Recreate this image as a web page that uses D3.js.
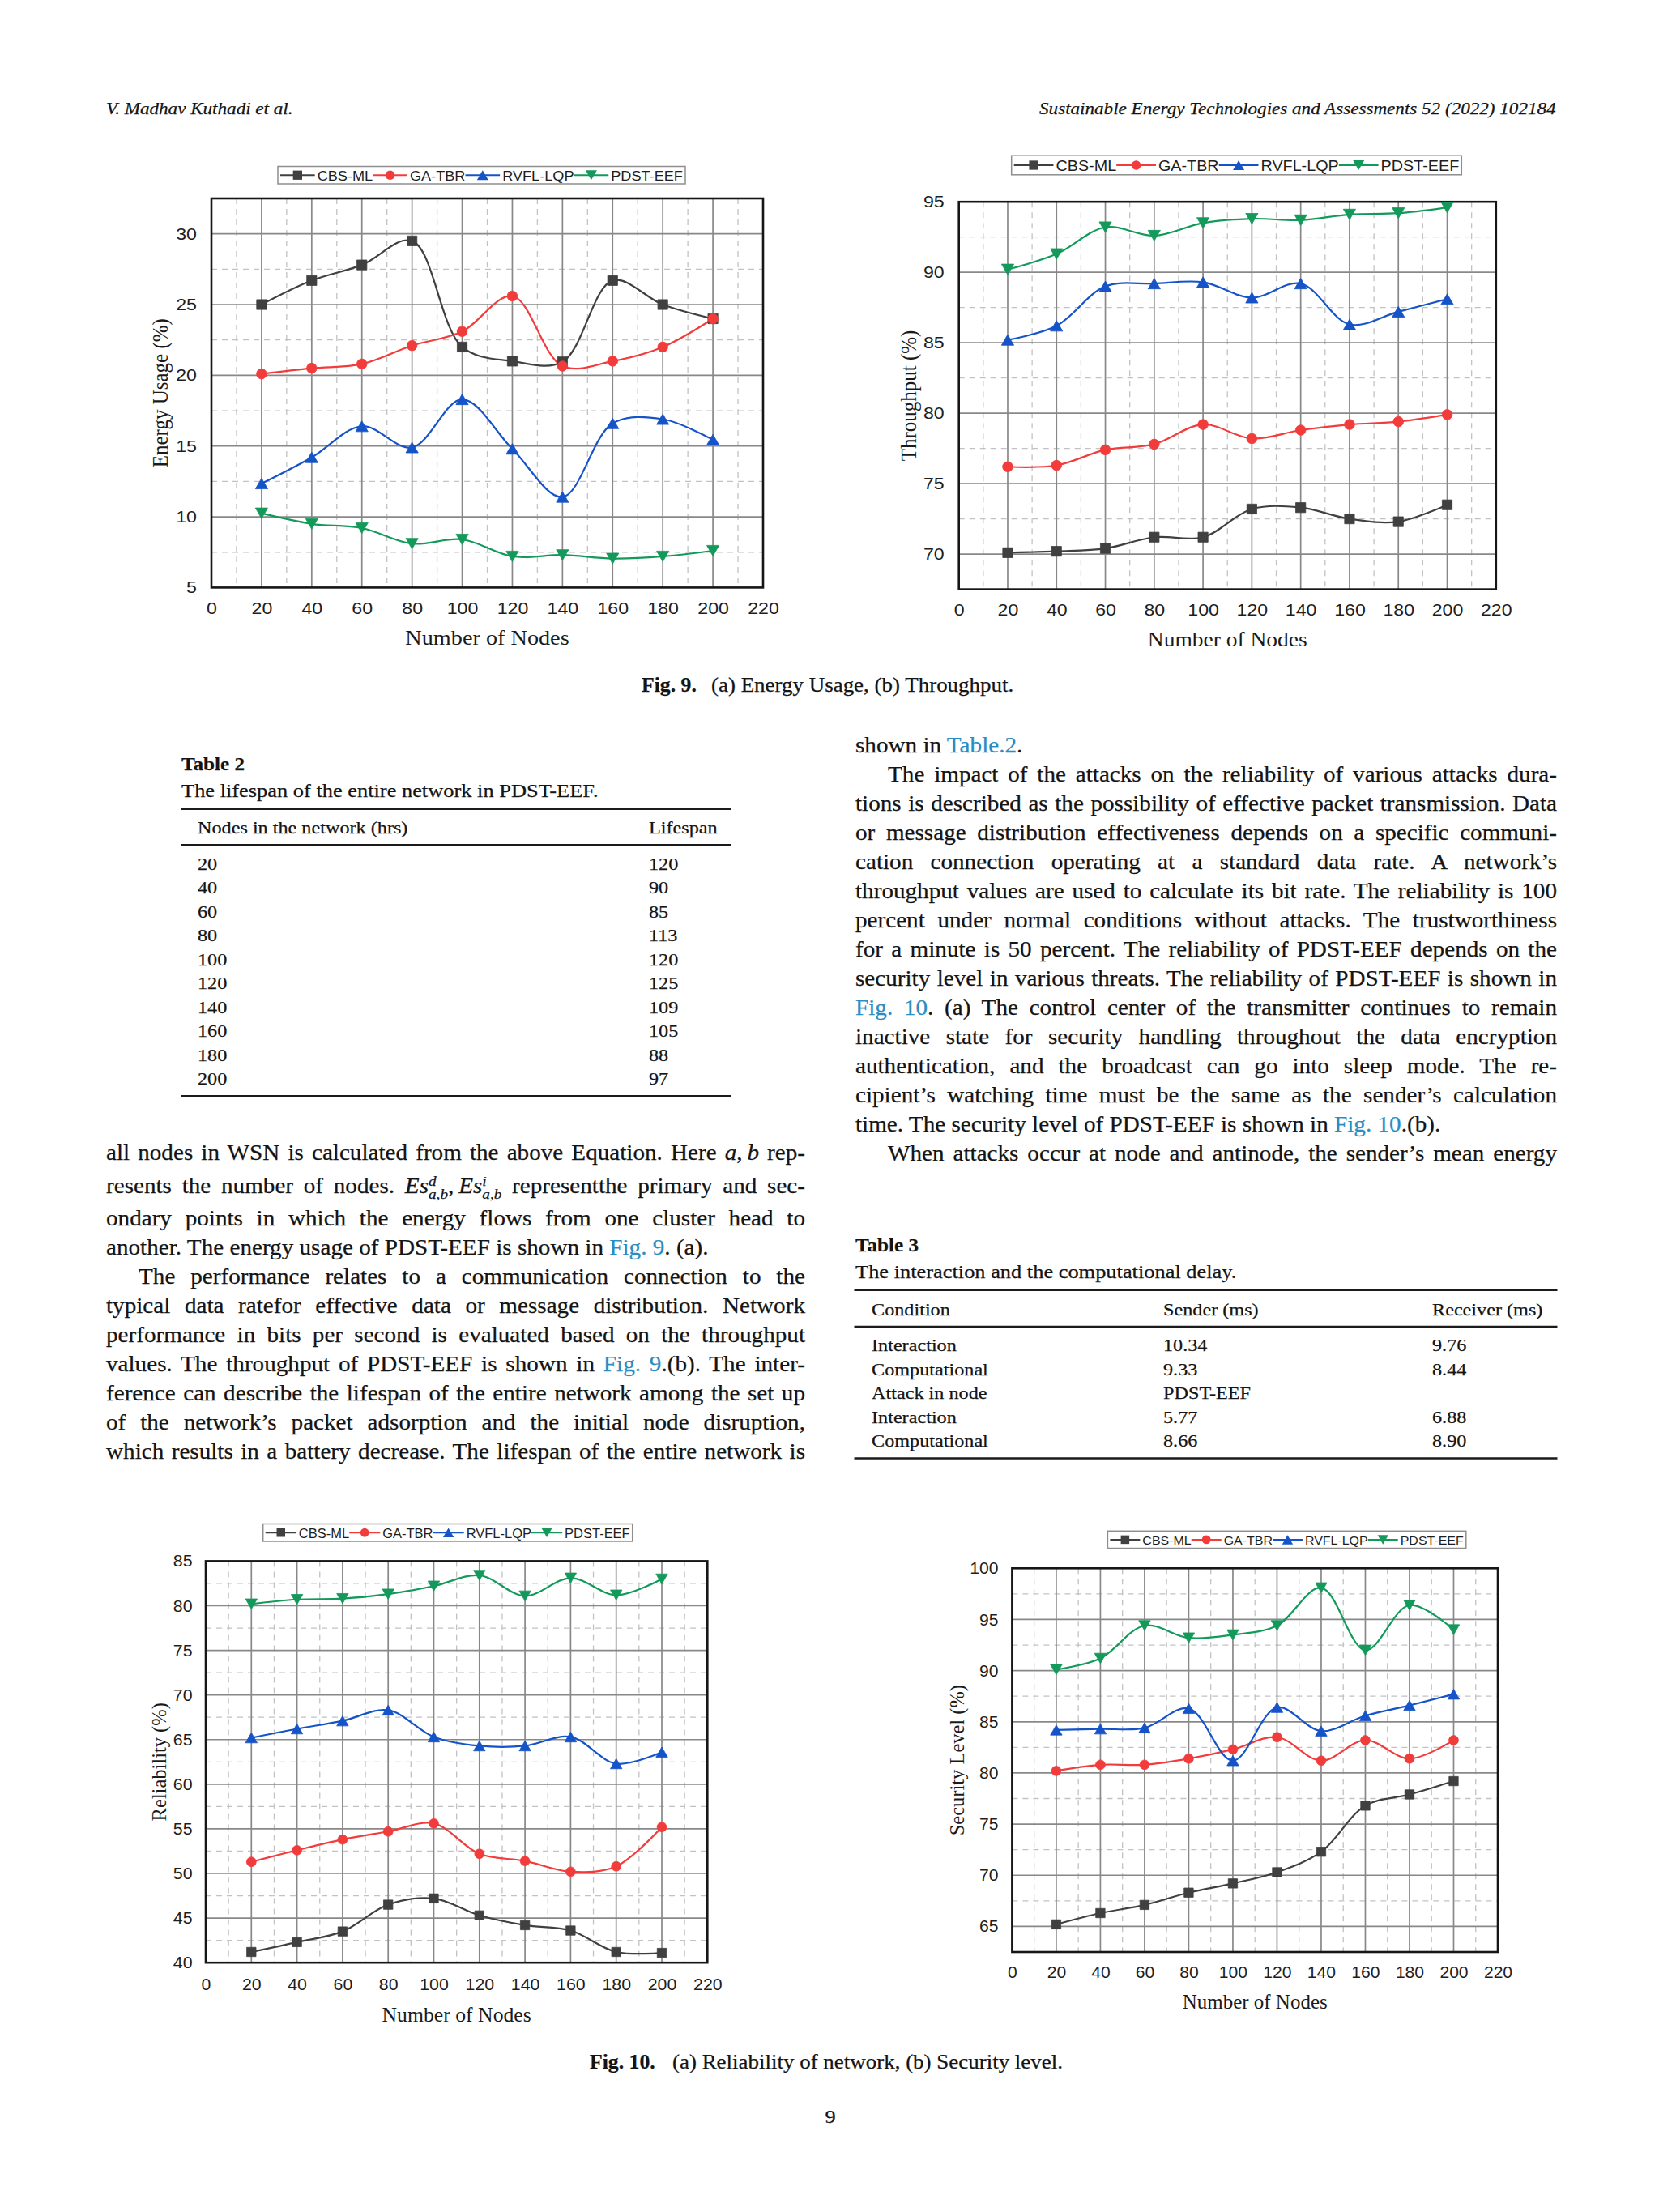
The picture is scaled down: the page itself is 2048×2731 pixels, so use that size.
<!DOCTYPE html>
<html><head><meta charset="utf-8">
<script src="https://cdn.jsdelivr.net/npm/d3@7"></script>
<style>
body{margin:0;background:#fff;}
#page{position:relative;width:2048px;height:2731px;background:#fff;overflow:hidden;font-family:"Liberation Serif","Times New Roman",serif;color:#141414;}
#page svg{position:absolute;left:0;top:0;}
.ln{position:absolute;white-space:nowrap;-webkit-text-stroke:0.25px #141414;}
.jl{text-align:justify;text-align-last:justify;white-space:normal;}
.lk{color:#2a8dc2;-webkit-text-stroke:0.25px #2a8dc2;}
.ss{display:inline-block;vertical-align:-0.45em;font-size:0.66em;line-height:0.95em;text-align:left;font-style:italic;}
.ss span{display:block;}
</style></head><body><div id="page"><svg id="svg" width="2048" height="2731"></svg></div>
<script>
// ---------------- DATA ----------------
const nodes=[20,40,60,80,100,120,140,160,180,200];
const seriesNames=["CBS-ML","GA-TBR","RVFL-LQP","PDST-EEF"];
const xTicks=[0,20,40,60,80,100,120,140,160,180,200,220];

const energyCBS=[25.0,26.7,27.8,29.5,22.0,21.0,20.95,26.7,25.0,24.0];
const energyGA=[20.1,20.5,20.8,22.1,23.1,25.6,20.65,21.0,22.0,24.0];
const energyRVFL=[12.35,14.2,16.4,14.9,18.3,14.8,11.4,16.6,16.9,15.45];
const energyPDST=[10.25,9.5,9.2,8.1,8.4,7.2,7.3,7.05,7.2,7.6];
const energyTicks=[5,10,15,20,25,30];

const thrCBS=[70.1,70.2,70.4,71.2,71.2,73.2,73.3,72.5,72.3,73.5];
const thrGA=[76.2,76.3,77.4,77.8,79.2,78.2,78.8,79.2,79.4,79.9];
const thrRVFL=[85.2,86.2,89.0,89.2,89.3,88.2,89.2,86.3,87.2,88.1];
const thrPDST=[90.2,91.3,93.2,92.6,93.5,93.8,93.7,94.1,94.2,94.6];
const thrTicks=[70,75,80,85,90,95];

const relCBS=[41.2,42.3,43.5,46.5,47.2,45.3,44.2,43.6,41.2,41.1];
const relGA=[51.3,52.6,53.8,54.7,55.6,52.2,51.4,50.2,50.8,55.2];
const relRVFL=[65.2,66.2,67.1,68.3,65.3,64.3,64.3,65.3,62.3,63.6];
const relPDST=[80.2,80.7,80.8,81.3,82.2,83.4,81.1,83.1,81.2,83.0];
const relTicks=[40,45,50,55,60,65,70,75,80,85];

const secCBS=[65.2,66.3,67.1,68.3,69.2,70.3,72.3,76.8,77.9,79.2];
const secGA=[80.2,80.8,80.8,81.4,82.3,83.5,81.2,83.2,81.4,83.2];
const secRVFL=[84.2,84.3,84.4,86.3,81.2,86.4,84.1,85.6,86.6,87.7];
const secPDST=[90.1,91.2,94.4,93.2,93.5,94.4,98.1,92.0,96.4,94.0];
const secTicks=[65,70,75,80,85,90,95,100];

const table2Nodes=["20","40","60","80","100","120","140","160","180","200"];
const table2Lifespan=["120","90","85","113","120","125","109","105","88","97"];
const table3Condition=["Interaction","Computational","Attack in node","Interaction","Computational"];
const table3Sender=["10.34","9.33","PDST-EEF","5.77","8.66"];
const table3Receiver=["9.76","8.44","","6.88","8.90"];

const rightLines=[
 ['shown in <span class="lk">Table.2</span>.',0,0],
 ['The impact of the attacks on the reliability of various attacks dura-',1,1],
 ['tions is described as the possibility of effective packet transmission. Data',0,1],
 ['or message distribution effectiveness depends on a specific communi-',0,1],
 ['cation connection operating at a standard data rate. A network’s',0,1],
 ['throughput values are used to calculate its bit rate. The reliability is 100',0,1],
 ['percent under normal conditions without attacks. The trustworthiness',0,1],
 ['for a minute is 50 percent. The reliability of PDST-EEF depends on the',0,1],
 ['security level in various threats. The reliability of PDST-EEF is shown in',0,1],
 ['<span class="lk">Fig. 10</span>. (a) The control center of the transmitter continues to remain',0,1],
 ['inactive state for security handling throughout the data encryption',0,1],
 ['authentication, and the broadcast can go into sleep mode. The re-',0,1],
 ['cipient’s watching time must be the same as the sender’s calculation',0,1],
 ['time. The security level of PDST-EEF is shown in <span class="lk">Fig. 10</span>.(b).',0,0],
 ['When attacks occur at node and antinode, the sender’s mean energy',1,1]
];
const leftLines=[
 ['all nodes in WSN is calculated from the above Equation. Here <i>a</i>,&#8201;<i>b</i> rep-',0,1],
 ['resents the number of nodes. <i>Es</i><span class="ss"><span>d</span><span>a,b</span></span>,&#8201;<i>Es</i><span class="ss"><span>i</span><span>a,b</span></span> representthe primary and sec-',0,1],
 ['ondary points in which the energy flows from one cluster head to',0,1],
 ['another. The energy usage of PDST-EEF is shown in <span class="lk">Fig. 9</span>. (a).',0,0],
 ['The performance relates to a communication connection to the',1,1],
 ['typical data ratefor effective data or message distribution. Network',0,1],
 ['performance in bits per second is evaluated based on the throughput',0,1],
 ['values. The throughput of PDST-EEF is shown in <span class="lk">Fig. 9</span>.(b). The inter-',0,1],
 ['ference can describe the lifespan of the entire network among the set up',0,1],
 ['of the network’s packet adsorption and the initial node disruption,',0,1],
 ['which results in a battery decrease. The lifespan of the entire network is',0,1]
];

// ---------------- STYLE / LAYOUT ----------------
const svg=d3.select('#svg');
const page=d3.select('#page');
const colors=["#404040","#f23c3c","#1553c9","#13995a"];
const SANS='"Liberation Sans", Arial, sans-serif';
const SERIF='"Liberation Serif", "Times New Roman", serif';

const triUp={draw(ctx,size){const s=Math.sqrt(size*4/Math.sqrt(3));const a=s/2,h=s*Math.sqrt(3)/2;ctx.moveTo(0,-h/2);ctx.lineTo(a,h/2);ctx.lineTo(-a,h/2);ctx.closePath();}};
const triDown={draw(ctx,size){const s=Math.sqrt(size*4/Math.sqrt(3));const a=s/2,h=s*Math.sqrt(3)/2;ctx.moveTo(0,h/2);ctx.lineTo(a,-h/2);ctx.lineTo(-a,-h/2);ctx.closePath();}};
const symTypes=[d3.symbolSquare,d3.symbolCircle,triUp,triDown];

const charts=[
 {series:[energyCBS,energyGA,energyRVFL,energyPDST],yTicks:energyTicks,yDom:[5,32.5],yTitle:"Energy Usage (%)",
  l:261,r:942,t:245,b:725.4,lg:[343,205.5,503,21.5,16.5,1.1],tf:20.5,sx:1.13,ttf:25,tsx:1.13,yGap:18,xPad:18,xtY:788,ytX:197,ms:[150,125,100,100]},
 {series:[thrCBS,thrGA,thrRVFL,thrPDST],yTicks:thrTicks,yDom:[67.5,95],yTitle:"Throughput (%)",
  l:1183.7,r:1846.8,t:249.2,b:727.6,lg:[1248.7,192.2,555.6,23.6,17.5,1.13],tf:20.5,sx:1.13,ttf:25,tsx:1.1,yGap:18,xPad:18,xtY:790,ytX:1121.7,ms:[150,125,100,100]},
 {series:[relCBS,relGA,relRVFL,relPDST],yTicks:relTicks,yDom:[40,85],yTitle:"Reliability (%)",
  l:254,r:873.3,t:1927.4,b:2423.2,lg:[324.7,1881.5,456,21.5,16,1.03],tf:20.5,sx:1.04,ttf:24.5,tsx:1.05,yGap:16.5,xPad:19.5,xtY:2488,ytX:196,ms:[130,110,90,90]},
 {series:[secCBS,secGA,secRVFL,secPDST],yTicks:secTicks,yDom:[62.5,100],yTitle:"Security Level (%)",
  l:1249.4,r:1849,t:1936.3,b:2410,lg:[1367.4,1890.3,442.4,21.2,15.5,1.03],tf:20.5,sx:1.03,ttf:24.5,tsx:1.02,yGap:17,xPad:17.5,xtY:2471.3,ytX:1181.7,ms:[130,110,90,90]}
];

function drawChart(c){
 const g=svg.append('g');
 const x=d3.scaleLinear().domain([0,220]).range([c.l,c.r]);
 const y=d3.scaleLinear().domain(c.yDom).range([c.b,c.t]);
 const step=c.yTicks[1]-c.yTicks[0];
 const xMinor=d3.range(10,220,20);
 const yMinor=[c.yTicks[0]-step/2].concat(c.yTicks.map(v=>v+step/2)).filter(v=>v>c.yDom[0]+0.01&&v<c.yDom[1]-0.01);
 const grid=g.append('g');
 grid.selectAll('.vm').data(xMinor).join('line').attr('x1',d=>x(d)).attr('x2',d=>x(d)).attr('y1',c.t).attr('y2',c.b)
   .attr('stroke','#c2c2c2').attr('stroke-width',1.3).attr('stroke-dasharray','7,6');
 grid.selectAll('.hm').data(yMinor).join('line').attr('y1',d=>y(d)).attr('y2',d=>y(d)).attr('x1',c.l).attr('x2',c.r)
   .attr('stroke','#c2c2c2').attr('stroke-width',1.3).attr('stroke-dasharray','7,6');
 grid.selectAll('.vM').data(xTicks.filter(v=>v>0&&v<220)).join('line').attr('x1',d=>x(d)).attr('x2',d=>x(d)).attr('y1',c.t).attr('y2',c.b)
   .attr('stroke','#888').attr('stroke-width',1.7);
 grid.selectAll('.hM').data(c.yTicks.filter(v=>v>c.yDom[0]&&v<c.yDom[1])).join('line').attr('y1',d=>y(d)).attr('y2',d=>y(d)).attr('x1',c.l).attr('x2',c.r)
   .attr('stroke','#888').attr('stroke-width',1.7);
 g.append('rect').attr('x',c.l).attr('y',c.t).attr('width',c.r-c.l).attr('height',c.b-c.t)
   .attr('fill','none').attr('stroke','#161616').attr('stroke-width',2.6);
 const line=d3.line().x((d,i)=>x(nodes[i])).y(d=>y(d)).curve(d3.curveCatmullRom.alpha(0.5));
 c.series.forEach((s,k)=>{
   g.append('path').attr('d',line(s)).attr('fill','none').attr('stroke',colors[k]).attr('stroke-width',2.2);
 });
 c.series.forEach((s,k)=>{
   const sym=d3.symbol().type(symTypes[k]).size(c.ms[k]);
   g.append('g').selectAll('path').data(s).join('path')
     .attr('transform',(d,i)=>`translate(${x(nodes[i])},${y(d)})`).attr('d',sym)
     .attr('fill',colors[k]).attr('stroke',colors[k]).attr('stroke-width',0.8);
 });
 // axes
 const ax=g.append('g').attr('transform',`translate(0,${c.b})`)
   .call(d3.axisBottom(x).tickValues(xTicks).tickSize(0).tickPadding(c.xPad));
 ax.select('.domain').remove();
 ax.attr('font-size',c.tf).attr('font-family',SANS);
 ax.selectAll('text').attr('fill','#1e1e1e').attr('transform',`scale(${c.sx},1)`);
 const ay=g.append('g').attr('transform',`translate(${c.l},0)`)
   .call(d3.axisLeft(y).tickValues(c.yTicks).tickSize(0).tickPadding(c.yGap));
 ay.select('.domain').remove();
 ay.attr('font-size',c.tf).attr('font-family',SANS);
 ay.selectAll('text').attr('fill','#1e1e1e').attr('x',-c.yGap/c.sx).attr('transform',`scale(${c.sx},1)`);
 // titles
 g.append('text').attr('transform',`translate(${(c.l+c.r)/2},${c.xtY}) scale(${c.tsx},1)`)
   .attr('text-anchor','middle').attr('dominant-baseline','central')
   .attr('font-family',SERIF).attr('font-size',c.ttf).attr('fill','#1a1a1a').text('Number of Nodes');
 g.append('text').attr('transform',`translate(${c.ytX},${(c.t+c.b)/2}) scale(${c.tsx},1) rotate(-90)`)
   .attr('text-anchor','middle').attr('dominant-baseline','central')
   .attr('font-family',SERIF).attr('font-size',c.ttf).attr('fill','#1a1a1a').text(c.yTitle);
 // legend
 const [lx,ly,lw,lh,lfs,lsx]=c.lg;
 const lgG=g.append('g');
 lgG.append('rect').attr('x',lx).attr('y',ly).attr('width',lw).attr('height',lh)
   .attr('fill','#fff').attr('stroke','#8e8e8e').attr('stroke-width',1.5);
 const cy=ly+lh/2;
 const texts=seriesNames.map(n=>lgG.append('text').attr('font-family',SANS).attr('font-size',lfs)
   .attr('fill','#1e1e1e').attr('dominant-baseline','central').text(n));
 const tw=texts.map(t=>t.node().getComputedTextLength()*lsx);
 const pad=3,gap=3;
 const L=(lw-2*pad-d3.sum(tw)-4*gap)/4;
 let cur=lx+pad;
 seriesNames.forEach((n,k)=>{
   lgG.append('line').attr('x1',cur).attr('x2',cur+L).attr('y1',cy).attr('y2',cy)
     .attr('stroke',colors[k]).attr('stroke-width',2);
   lgG.append('path').attr('transform',`translate(${cur+L/2},${cy})`)
     .attr('d',d3.symbol().type(symTypes[k]).size(c.ms[k]*0.85)).attr('fill',colors[k]);
   texts[k].attr('transform',`translate(${cur+L+gap},${cy+1}) scale(${lsx},1)`);
   cur+=L+gap+tw[k];
 });
}
charts.forEach(drawChart);

// ---------------- TEXT HELPERS ----------------
function txt(html,x,yc,o){
 const fs=o.fs, s=o.s||1.1, lh=o.lh||Math.round(fs*1.44);
 const d=page.append('div').attr('class','ln').html(html)
   .style('font-size',fs+'px').style('line-height',lh+'px').style('height',lh+'px')
   .style('top',(yc-lh/2)+'px');
 if(o.bold) d.style('font-weight','bold');
 if(o.italic) d.style('font-style','italic');
 if(o.w){
   d.classed('jl',!!o.justify).style('width',(o.w/s)+'px');
 }
 const anchor=o.anchor||'start';
 if(anchor==='start'){d.style('left',x+'px').style('transform-origin','0 50%').style('transform',`scaleX(${s})`);}
 else if(anchor==='end'){d.style('right',(2048-x)+'px').style('transform-origin','100% 50%').style('transform',`scaleX(${s})`);}
 else {d.style('left',x+'px').style('transform-origin','50% 50%').style('transform',`translateX(-50%) scaleX(${s})`);}
 return d;
}

// header
txt('V. Madhav Kuthadi et al.',130.5,134,{fs:21,italic:true});
txt('Sustainable Energy Technologies and Assessments 52 (2022) 102184',1921,134,{fs:21,italic:true,anchor:'end'});

// figure captions
txt('Fig. 9.',792,845,{fs:24.5,bold:true,s:1.05});
txt('(a) Energy Usage, (b) Throughput.',878,845,{fs:24.5});
txt('Fig. 10.',728,2545,{fs:24.5,bold:true,s:1.05});
txt('(a) Reliability of network, (b) Security level.',829.5,2545,{fs:24.5});
txt('9',1025,2613,{fs:24,anchor:'middle'});

// body columns
const BODY=26.5, IND=40;
rightLines.forEach((l,i)=>{
 const yc=919.5+i*36.07;
 txt(l[0],1055.5+(l[1]?IND:0),yc,{fs:BODY,lh:36,w:866-(l[1]?IND:0),justify:!!l[2]});
});
leftLines.forEach((l,i)=>{
 const yc=1423+i*36+(i>=1?4.5:0)+(i>=2?4.5:0);
 txt(l[0],130.5+(l[1]?IND:0),yc,{fs:BODY,lh:36,w:863-(l[1]?IND:0),justify:!!l[2]});
});

// Table 2
txt('Table 2',224,943,{fs:24,bold:true,s:1.05});
txt('The lifespan of the entire network in PDST-EEF.',224,976,{fs:24});
[998.7,1043.3,1353.3].forEach(yy=>svg.append('line').attr('x1',223).attr('x2',902).attr('y1',yy).attr('y2',yy).attr('stroke','#1b1b1b').attr('stroke-width',2.4));
txt('Nodes in the network (hrs)',244,1021.5,{fs:22});
txt('Lifespan',801,1021.5,{fs:22});
table2Nodes.forEach((n,i)=>{
 const yc=1066.5+i*29.55;
 txt(n,244,yc,{fs:22});
 txt(table2Lifespan[i],801,yc,{fs:22});
});

// Table 3
txt('Table 3',1055.5,1537.5,{fs:24,bold:true,s:1.05});
txt('The interaction and the computational delay.',1055.5,1570.5,{fs:24});
[1592.8,1638,1800.5].forEach(yy=>svg.append('line').attr('x1',1054.5).attr('x2',1922.5).attr('y1',yy).attr('y2',yy).attr('stroke','#1b1b1b').attr('stroke-width',2.4));
txt('Condition',1076,1616.5,{fs:22});
txt('Sender (ms)',1435.5,1616.5,{fs:22});
txt('Receiver (ms)',1768,1616.5,{fs:22});
table3Condition.forEach((cnd,i)=>{
 const yc=1661+i*29.5;
 txt(cnd,1076,yc,{fs:22});
 txt(table3Sender[i],1435.5,yc,{fs:22});
 if(table3Receiver[i]) txt(table3Receiver[i],1768,yc,{fs:22});
});
</script></body></html>
